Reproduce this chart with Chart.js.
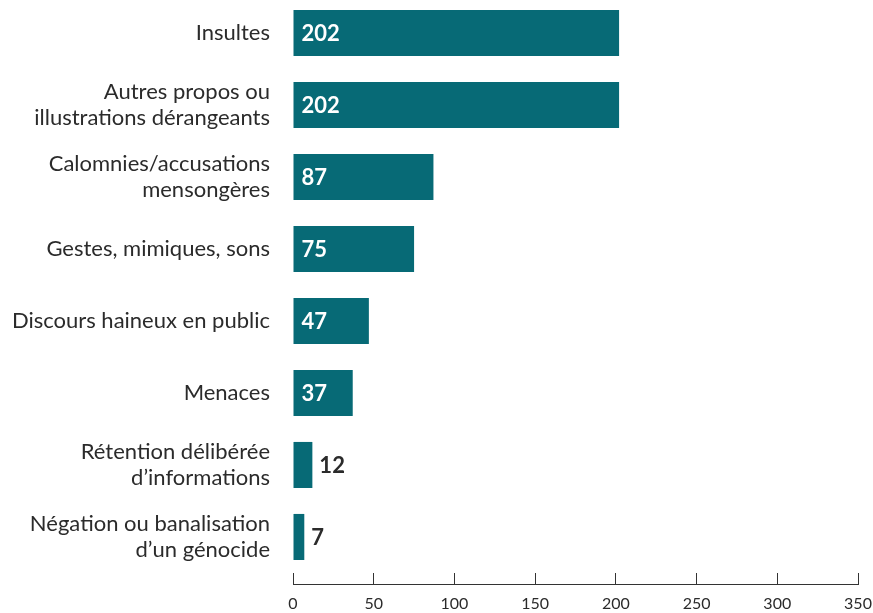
<!DOCTYPE html>
<html lang="fr">
<head>
<meta charset="utf-8">
<title>Atteintes signalées</title>
<script src="https://cdn.jsdelivr.net/npm/chart.js@4/dist/chart.umd.min.js"></script>
<style>
  html, body { margin: 0; padding: 0; background: #ffffff; }
  .grafico { position: relative; width: 873px; height: 613px; }
</style>
</head>
<body>
<div class="grafico">
  <canvas id="graficoAtteintes"></canvas>
</div>
<script>
// Catégories (libellés sur plusieurs lignes)
const categories = [
  "Insultes",
  ["Autres propos ou", "illustrations dérangeants"],
  ["Calomnies/accusations", "mensongères"],
  "Gestes, mimiques, sons",
  "Discours haineux en public",
  "Menaces",
  ["Rétention délibérée", "d’informations"],
  ["Négation ou banalisation", "d’un génocide"]
];

// Nombre de cas par catégorie
const valeurs = [202, 202, 87, 75, 47, 37, 12, 7];

// Axe des x
const xMin = 0;
const xMax = 350;
const xPas = 50;

const couleurBarre = "#076a76";
const couleurTexte = "#2b2b2b";
const police = "Lato, 'Noto Sans', sans-serif";

// Plugin maison : écrit la valeur dans la barre, ou à côté si elle est trop courte
const etiquettesValeurs = {
  id: "etiquettesValeurs",
  afterDatasetsDraw(chart) {
    const ctx = chart.ctx;
    const meta = chart.getDatasetMeta(0);
    ctx.save();
    ctx.font = "bold 22px " + police;
    ctx.textBaseline = "middle";
    ctx.textAlign = "left";
    meta.data.forEach((barre, i) => {
      const texte = String(chart.data.datasets[0].data[i]);
      const largeurTexte = ctx.measureText(texte).width;
      const largeurBarre = barre.x - barre.base;
      if (largeurTexte + 16 <= largeurBarre) {
        ctx.fillStyle = "#ffffff";
        ctx.fillText(texte, barre.base + 8, barre.y + 1);
      } else {
        ctx.fillStyle = couleurTexte;
        ctx.fillText(texte, barre.x + 7, barre.y + 1);
      }
    });
    ctx.restore();
  }
};

const ctx = document.getElementById("graficoAtteintes").getContext("2d");
new Chart(ctx, {
  type: "bar",
  data: {
    labels: categories,
    datasets: [
      {
        data: valeurs,
        backgroundColor: couleurBarre,
        borderWidth: 0,
        barPercentage: 0.64,
        categoryPercentage: 1
      }
    ]
  },
  options: {
    indexAxis: "y",
    responsive: true,
    maintainAspectRatio: false,
    animation: false,
    plugins: {
      legend: { display: false },
      tooltip: { enabled: false }
    },
    scales: {
      x: {
        min: xMin,
        max: xMax,
        afterFit: (scale) => {
          // on garde juste la place pour le « 350 » à droite
          scale.paddingLeft = 0;
          scale.paddingRight = 15;
          scale.height = 29;
        },
        ticks: {
          stepSize: xPas,
          padding: 23,
          maxRotation: 0,
          color: couleurTexte,
          font: { family: police, size: 16, lineHeight: 1 }
        },
        grid: {
          drawOnChartArea: false,
          drawTicks: true,
          tickLength: -11, // petits traits vers le haut
          color: "#333333"
        },
        border: { display: true, color: "#333333", width: 1 }
      },
      y: {
        // bandes un peu remontées : petit espace entre la dernière barre et l'axe
        afterBuildTicks: (scale) => {
          scale._startValue = -0.458;
          scale._valueRange = 8.111;
        },
        afterFit: (scale) => {
          scale.width = 293;
          scale.paddingTop = 0;
          scale.paddingBottom = 0;
        },
        ticks: {
          padding: 23,
          color: couleurTexte,
          font: { family: police, size: 22, lineHeight: 1.2 }
        },
        grid: { display: false, drawTicks: false },
        border: { display: false }
      }
    }
  },
  plugins: [etiquettesValeurs]
});
</script>
</body>
</html>
